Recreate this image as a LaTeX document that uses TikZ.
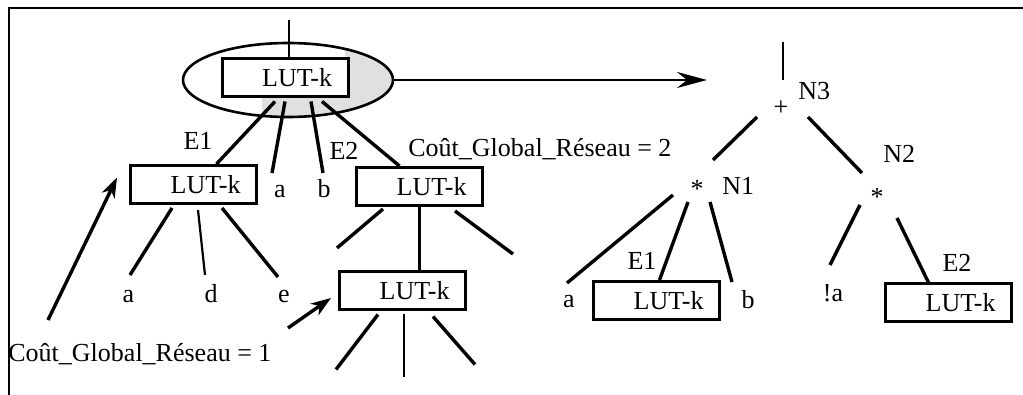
\documentclass[tikz,border=0pt]{standalone}
\usepackage{fontspec}
\setmainfont{Liberation Serif}
\usetikzlibrary{arrows.meta,calc,shapes.geometric}

\begin{document}
\begin{tikzpicture}[
      x=0.5pt, y=-0.5pt,
      font=\fontsize{13}{15}\selectfont,
      lut/.style={draw, line width=1.5pt, fill=white, inner xsep=8pt, inner ysep=0pt,
                  text width=47pt, align=right, minimum height=19pt},
      ring/.style={draw, ellipse, line width=1.3pt, minimum width=105pt,
                   minimum height=37pt, inner sep=0pt},
      edge/.style={line width=1.7pt},
      stub/.style={line width=1.1pt},
      lbl/.style={anchor=base, inner sep=0pt},
      op/.style={inner sep=0pt},
      cost/.style={-{Stealth[length=10pt,width=7pt,inset=3pt]}, line width=1.7pt}
    ]
    \useasboundingbox (0,0) rectangle (1023,395);

    % cadre
    \coordinate (fTL) at (9,8);
    \draw[line width=1pt] (1023,8) -- (fTL) -- (9,395);

    % LUT racine dans l'ellipse
    \begin{scope}
      \clip (288,80) ellipse [x radius=52.5pt, y radius=18.5pt];
      \fill[black!12] (345,40) rectangle (400,125);
      \fill[black!12] (262,95) rectangle (400,125);
    \end{scope}
    \node[ring] (ring) at (288,80) {};
    \node[lut] (lutTop) at (285,78) {LUT-k};
    \coordinate (rootIn) at (289,20);
    \draw[stub] (rootIn) -- (rootIn |- lutTop.north);

    \coordinate (tgt) at (707,82);
    \draw[line width=1.3pt, -{Stealth[length=15pt,width=8pt,inset=5pt]}]
         (ring.east) -- (ring.east -| tgt);

    % arbre de LUT
    \node[lut] (lutL) at (193.5,184.5) {LUT-k};
    \node[lut] (lutM) at (419.5,186.5) {LUT-k};
    \node[lut] (lutB) at (402.5,291) {LUT-k};

    \node[lbl] (e1L) at (198,150) {E1};
    \node[lbl] (e2L) at (344,160) {E2};
    \node[lbl] (ra)  at (280,198) {a};
    \node[lbl] (rb)  at (324,198) {b};
    \node[lbl] (la)  at (128.5,303) {a};
    \node[lbl] (ld)  at (211,303) {d};
    \node[lbl] (le)  at (284,303) {e};
    \node[lbl, anchor=base west] (cost2) at (408,157) {Coût\_Global\_Réseau = 2};
    \node[lbl, anchor=base west] (cost1) at (8,362) {Coût\_Global\_Réseau = 1};

    \draw[edge] ($(lutTop.south)+(-10,3)$) -- ($(lutL.north)+(23,0)$);
    \draw[edge] ($(lutTop.south)+(0,3)$) -- ($(ra.base)+(-8,-25)$);
    \draw[edge] ($(lutTop.south)+(26,3)$) -- ($(rb.base)+(-1,-25)$);
    \draw[edge] ($(lutTop.south)+(37,3)$) -- ($(lutM.north)+(-20,0)$);

    \draw[edge] ($(lutL.south)+(-21.5,3)$) -- ($(la.base)+(1.5,-28)$);
    \draw[stub] ($(lutL.south)+(4.5,5)$) -- ($(ld.base)+(-6,-28)$);
    \draw[edge] ($(lutL.south)+(28.5,3)$) -- ($(le.base)+(-6,-26)$);

    \draw[edge] ($(lutM.south)+(-36.5,2)$) -- ++(-46,39);
    \draw[stub] (lutM.south) -- (lutM.south |- lutB.north);
    \draw[edge] ($(lutM.south)+(35.5,4)$) -- ++(58,43);

    \draw[edge] ($(lutB.south)+(-24.5,3)$) -- ++(-42,55);
    \draw[stub] ($(lutB.south)+(1.5,3)$) -- ++(0,62);
    \draw[edge] ($(lutB.south)+(30.5,5)$) -- ++(42,48);

    \coordinate (c1tail) at (48,320);
    \draw[cost] (c1tail) -- ($(lutL.west)+(-12,-7)$);
    \coordinate (c1tailB) at (288,328);
    \draw[cost] (c1tailB) -- ($(lutB.west)+(-7,7)$);

    % reseau equivalent
    \node[op] (plus) at (781,108) {+};
    \node[lbl, anchor=base west] (n3) at (798,100) {N3};
    \node[op] (mulA) at (697,189) {*};
    \node[lbl, anchor=base west] (n1) at (722,195) {N1};
    \node[op] (mulB) at (877,197) {*};
    \node[lbl, anchor=base west] (n2) at (883,163) {N2};

    \node[lut] (lutE1) at (656.5,300.5) {LUT-k};
    \node[lut] (lutE2) at (948.5,303) {LUT-k};
    \node[lbl] (ra2) at (569,307) {a};
    \node[lbl] (rb2) at (748,308) {b};
    \node[lbl] (rna) at (833,302) {!a};
    \node[lbl] (e1R) at (642,270) {E1};
    \node[lbl] (e2R) at (957,272) {E2};

    \coordinate (n3in) at (783,42);
    \draw[stub] (n3in) -- ($(plus)+(2,-28)$);
    \draw[edge] ($(plus)+(-24,9)$) -- ($(mulA)+(16,-29)$);
    \draw[edge] ($(plus)+(27,9)$) -- ($(mulB)+(-15,-24)$);

    \draw[edge] ($(mulA)+(-24,6)$) -- ($(ra2.base)+(-2,-24)$);
    \draw[edge] ($(mulA)+(-9,13)$) -- ($(lutE1.north)+(3,0)$);
    \draw[edge] ($(mulA)+(13,13)$) -- ($(rb2.base)+(-16,-26)$);

    \draw[edge] ($(mulB)+(-17,8)$) -- ($(rna.base)+(-3,-37)$);
    \draw[edge] ($(mulB)+(20,21)$) -- ($(lutE2.north)+(-20,0)$);
  \end{tikzpicture}
\end{document}
